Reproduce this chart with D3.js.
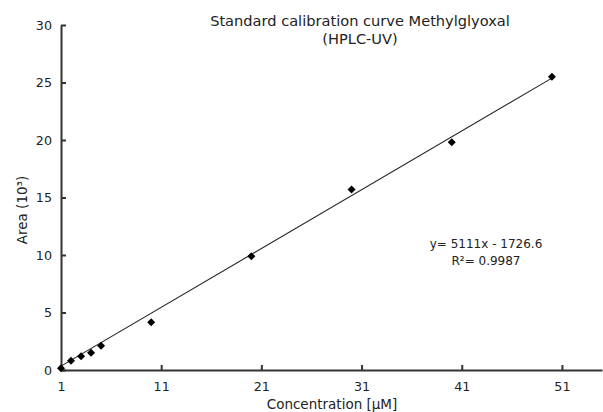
<!DOCTYPE html>
<html>
<head>
<meta charset="utf-8">
<script src="https://cdn.jsdelivr.net/npm/d3@7"></script>
<style>
  html, body { margin: 0; padding: 0; background: #fff; }
  svg { display: block; font-family: "DejaVu Sans", Verdana, sans-serif; }
</style>
</head>
<body>
<svg id="chart" width="603" height="412"></svg>
<script>
// ---- data ----
const concentrations = [1, 2, 3, 4, 5, 10, 20, 30, 40, 50];
const areas = [0.15, 0.8, 1.2, 1.5, 2.1, 4.15, 9.9, 15.7, 19.8, 25.5];
const xTicks = [1, 11, 21, 31, 41, 51];
const yTicks = [0, 5, 10, 15, 20, 25, 30];
const trendSlope = 5111;        // from the printed equation
const trendIntercept = -1726.6; // from the printed equation
const trendScale = 1e-4;        // equation units -> plotted units (10^3)
const trendRange = [1, 50];
const titleLines = ["Standard calibration curve Methylglyoxal", "(HPLC-UV)"];
const equationLines = ["y= 5111x - 1726.6", "R\u00B2= 0.9987"];

// ---- layout ----
const svg = d3.select("#chart");
const x = d3.scaleLinear().domain([1, 55]).range([61, 602]);
const y = d3.scaleLinear().domain([0, 30]).range([370, 25]);
const axisColor = "#333";

// axes
const gx = svg.append("g").attr("transform", "translate(0,370)")
  .call(d3.axisBottom(x).tickValues(xTicks).tickSize(-5).tickSizeOuter(0).tickPadding(12).tickFormat(d3.format("d")));
const gy = svg.append("g").attr("transform", "translate(61,0)")
  .call(d3.axisLeft(y).tickValues(yTicks).tickSize(-5).tickSizeOuter(0).tickPadding(9).tickFormat(d3.format("d")));
[gx, gy].forEach(g => {
  g.select(".domain").attr("stroke", axisColor).attr("stroke-width", 2);
  g.selectAll(".tick line").attr("stroke", axisColor).attr("stroke-width", 2);
  g.selectAll(".tick text").attr("fill", "#222").style("font-size", "12.7px").style("font-family", "DejaVu Sans");
});

// trend line
const trendY = v => (trendSlope * v + trendIntercept) * trendScale;
svg.append("line")
  .attr("x1", x(trendRange[0])).attr("y1", y(trendY(trendRange[0])))
  .attr("x2", x(trendRange[1])).attr("y2", y(trendY(trendRange[1])))
  .attr("stroke", "#222").attr("stroke-width", 1.1);

// markers
const diamond = d3.symbol().type(d3.symbolSquare).size(32);
svg.append("g").selectAll("path")
  .data(concentrations.map((c, i) => [c, areas[i]]))
  .join("path")
  .attr("d", diamond)
  .attr("transform", d => `translate(${x(d[0])},${y(d[1])}) rotate(45)`)
  .attr("fill", "#000");

// title
svg.append("g").selectAll("text").data(titleLines).join("text")
  .attr("x", 360).attr("y", (d, i) => 26 + i * 17.5)
  .attr("text-anchor", "middle").attr("fill", "#222")
  .style("font-size", "14.6px").text(d => d);

// equation
svg.append("g").selectAll("text").data(equationLines).join("text")
  .attr("x", 486).attr("y", (d, i) => 248 + i * 17)
  .attr("text-anchor", "middle").attr("fill", "#222")
  .style("font-size", "12px").text(d => d);

// axis titles
svg.append("text").attr("x", 332).attr("y", 409).attr("text-anchor", "middle")
  .attr("fill", "#222").style("font-size", "13.5px").text("Concentration [\u03BCM]");
svg.append("text").attr("transform", "translate(27,210) rotate(-90)").attr("text-anchor", "middle")
  .attr("fill", "#222").style("font-size", "13.5px").text("Area (10\u00B3)");
</script>
</body>
</html>
